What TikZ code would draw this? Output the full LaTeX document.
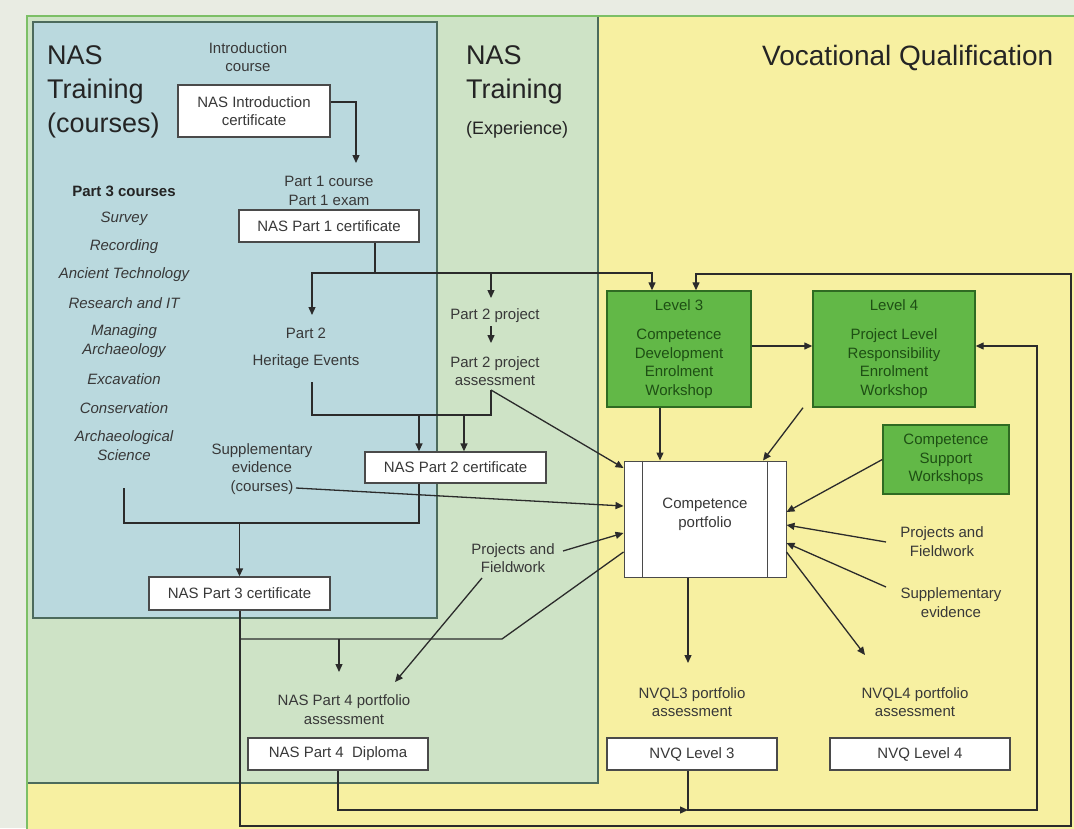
\documentclass[tikz,border=0pt]{standalone}
\usepackage{fontspec}
\setmainfont{Liberation Sans}
\usetikzlibrary{arrows.meta,calc}
\definecolor{bgc}{HTML}{E9ECE3}
\definecolor{yel}{HTML}{F7F0A1}
\definecolor{grn}{HTML}{CEE3C6}
\definecolor{blu}{HTML}{BAD9DE}
\definecolor{framec}{HTML}{7CBF66}
\definecolor{pandark}{HTML}{4C6B5C}
\definecolor{boxg}{HTML}{62B847}
\definecolor{boxgb}{HTML}{2F6B22}
\definecolor{boxgt}{HTML}{1E4F14}
\definecolor{txt}{HTML}{383838}
\definecolor{ttl}{HTML}{242424}
\definecolor{lnc}{HTML}{2B2B2B}
\definecolor{certb}{HTML}{4A4A4A}
\begin{document}
\begin{tikzpicture}[x=1pt,y=-1pt,
  lbl/.style={font=\fontsize{15}{18.5}\selectfont, text=txt, align=center, inner sep=0pt},
  ital/.style={lbl, font=\fontsize{15}{18.5}\selectfont\itshape},
  ttlf/.style={inner sep=0pt, text=ttl, align=left, font=\fontsize{27}{34}\selectfont, anchor=north west},
  cert/.style={draw=certb, fill=white, line width=1.3pt, font=\fontsize{15}{18.5}\selectfont, text=txt, align=center, inner sep=0pt},
  gbox/.style={draw=boxgb, fill=boxg, line width=1.4pt, font=\fontsize{15}{18.5}\selectfont, text=boxgt, align=center, inner sep=0pt},
  ln/.style={draw=lnc, line width=1.3pt},
  arr/.style={ln, -{Triangle[length=8pt,width=7pt]}}
]
\useasboundingbox (0,0) rectangle (1074,828);
\clip (0,0) rectangle (1074,828);
% panels
\fill[bgc] (0,0) rectangle (1074,828);
\fill[yel] (27,16) rectangle (1080,834);
\fill[grn] (27,16) rectangle (598,783);
\draw[pandark, line width=1.3pt] (598,16) -- (598,783) -- (27,783);
\draw[framec, line width=1.3pt] (27,834) -- (27,16) -- (1080,16);
\draw[draw=pandark, fill=blu, line width=2pt] (33,22) rectangle (437,618);

% titles
\node[ttlf] (t1) at (47,45) {NAS\\Training\\(courses)};
\node[ttlf] (t2) at (466,45) {NAS\\Training};
\node[lbl, anchor=west, text=ttl, font=\fontsize{18}{22}\selectfont] (t3) at (466,129.5) {(Experience)};
\node[ttlf, font=\fontsize{28}{34}\selectfont] (t4) at (762,45) {Vocational Qualification};

% left column
\node[lbl] (introc) at (248,57) {Introduction\\course};
\node[cert, minimum width=152pt, minimum height=52pt] (intro) at (254,111) {NAS Introduction\\certificate};
\node[lbl] (p1c) at (329,191) {Part 1 course\\Part 1 exam};
\node[cert, minimum width=180pt, minimum height=32pt] (p1) at (329,226) {NAS Part 1 certificate};
\node[lbl, font=\fontsize{15}{18.5}\selectfont\bfseries, text=ttl] (p3t) at (124,191) {Part 3 courses};
\node[ital] (c1) at (124,219) {Survey};
\node[ital] (c2) at (124,247) {Recording};
\node[ital] (c3) at (124,275) {Ancient Technology};
\node[ital] (c4) at (124,303) {Research and IT};
\node[ital] (c5) at (124,341) {Managing\\Archaeology};
\node[ital] (c6) at (124,379) {Excavation};
\node[ital] (c7) at (124,408) {Conservation};
\node[ital] (c8) at (124,445.5) {Archaeological\\Science};
\node[lbl] (pt2) at (306,333) {Part 2};
\node[lbl] (he) at (306,362) {Heritage Events};
\node[lbl] (pp) at (495,316) {Part 2 project};
\node[lbl] (ppa) at (495,371) {Part 2 project\\assessment};
\node[cert, minimum width=181pt, minimum height=31pt] (p2) at (455.5,467.5) {NAS Part 2 certificate};
\node[lbl] (supc) at (262,469) {Supplementary\\evidence\\(courses)};
\node[cert, minimum width=181pt, minimum height=33pt] (p3) at (239.5,593.5) {NAS Part 3 certificate};
\node[lbl] (pfl) at (513,558) {Projects and\\Fieldwork};
\node[lbl] (p4a) at (344,709.5) {NAS Part 4 portfolio\\assessment};
\node[cert, minimum width=180pt, minimum height=32pt] (dip) at (338,754) {NAS Part 4~~Diploma};

% right side
\node[gbox, minimum width=144pt, minimum height=116pt] (L3) at (679,349) {Level 3\\[11pt]Competence\\Development\\Enrolment\\Workshop};
\node[gbox, minimum width=162pt, minimum height=116pt] (L4) at (894,349) {Level 4\\[11pt]Project Level\\Responsibility\\Enrolment\\Workshop};
\node[gbox, minimum width=126pt, minimum height=69pt] (csw) at (946,459.5) {Competence\\Support\\Workshops};
\node[cert, line width=1pt, minimum width=162pt, minimum height=116pt] (port) at (705,519) {Competence\\portfolio\\[-6pt]\mbox{}};
\draw[certb, line width=1pt] ([xshift=19pt]port.north west) -- ([xshift=19pt]port.south west);
\draw[certb, line width=1pt] ([xshift=-19pt]port.north east) -- ([xshift=-19pt]port.south east);
\node[lbl] (pfr) at (942,541.5) {Projects and\\Fieldwork};
\node[lbl] (supr) at (951,602.5) {Supplementary\\evidence};
\node[lbl] (nvql3) at (692,702) {NVQL3 portfolio\\assessment};
\node[lbl] (nvql4) at (915,702) {NVQL4 portfolio\\assessment};
\node[cert, minimum width=170pt, minimum height=32pt] (nvq3) at (692,754) {NVQ Level 3};
\node[cert, minimum width=180pt, minimum height=32pt] (nvq4) at (920,754) {NVQ Level 4};

% coordinates
\coordinate (a1) at (356,163);
\coordinate (j2) at (375,273);
\coordinate (a2) at (312,315);
\coordinate (a3) at (491,298);
\coordinate (k1) at (312,382);
\coordinate (k2) at (312,415);
\coordinate (k3) at (491,415);
\coordinate (k4) at (491,390);
\coordinate (m1) at (124,488);
\coordinate (m2) at (124,523);
\coordinate (s1) at (296,488);
\coordinate (q1) at (240,826);
\coordinate (q2) at (1071,826);
\coordinate (q3) at (1071,274);
\coordinate (q4) at (240,639);
\coordinate (q5) at (502,639);
\coordinate (q6) at (339,639);
\coordinate (q7) at (339,672);
\coordinate (q8) at (688,810);
\coordinate (q9) at (1037,810);
\coordinate (r1) at (886,542);
\coordinate (r2) at (886,587);
\coordinate (r3) at (865,655);
\coordinate (r4) at (688,663);
\coordinate (l1) at (563,551);
\coordinate (l2) at (482,578);
\coordinate (l3) at (395,682);

% connectors
\draw[arr] ([yshift=9pt]intro.east) -| (a1);
\draw[ln] (p1.south -| j2) -- (j2);
\draw[arr] (j2) -| (a2);
\draw[arr] (j2) -| (a3);
\draw[arr] (j2) -| ([xshift=-27pt]L3.north);
\draw[arr, shorten <=3pt, shorten >=13pt] (pp.south -| a3) -- (ppa.north -| a3);
\draw[ln] (k1) -- (k2) -- (k3) -- (k4);
\draw[arr] ([xshift=-36.5pt]p2.north |- k2) -- ([xshift=-36.5pt]p2.north);
\draw[arr] ([xshift=8.5pt]p2.north |- k2) -- ([xshift=8.5pt]p2.north);
\draw[arr] (k4) -- ([yshift=51pt]port.west);
\draw[ln] (m1) -- (m2) -| ([xshift=-36.5pt]p2.south);
\draw[arr] (p3.north |- m2) -- (p3.north);
\draw[arr] (s1) -- ([yshift=13pt]port.west);
\draw[arr] (p3.south -| q1) -- (q1) -- (q2) -- (q3) -| ([xshift=17pt]L3.north);
\draw[ln] (q4) -- (q5) -- ([yshift=-33pt]port.west);
\draw[arr] (q6) -- (q7);
\draw[arr] (dip.south) |- (q8);
\draw[arr] (nvq3.south -| q8) -- (q8) -- (q9) |- ([yshift=3pt]L4.east);
\draw[arr] ([yshift=3pt]L3.east) -- ([yshift=3pt]L4.west);
\draw[arr] ([xshift=-19pt]L3.south) -- ([xshift=-19pt]L3.south |- port.north);
\draw[arr] ([xshift=-91pt]L4.south) -- ([xshift=58pt]port.north);
\draw[arr] (csw.west) -- ([yshift=7pt]port.east);
\draw[arr] (r1) -- ([yshift=-6pt]port.east);
\draw[arr] (r2) -- ([yshift=-24pt]port.east);
\draw[arr] ([yshift=-33pt]port.east) -- (r3);
\draw[arr] (port.south -| r4) -- (r4);
\draw[arr] (l1) -- ([yshift=-14pt]port.west);
\draw[arr] (l2) -- (l3);
\end{tikzpicture}
\end{document}
